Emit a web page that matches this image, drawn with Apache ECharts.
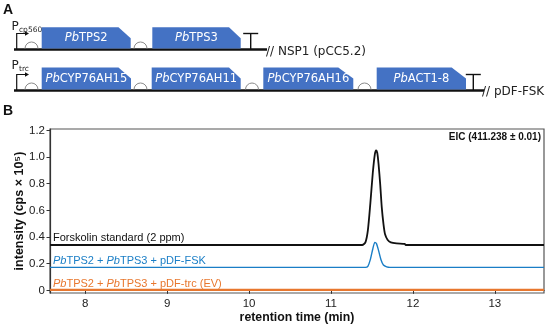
<!DOCTYPE html>
<html><head><meta charset="utf-8">
<script src="https://cdn.jsdelivr.net/npm/echarts@6/dist/echarts.min.js"></script>
<style>html,body{margin:0;padding:0;background:#fff}#c{width:550px;height:329px}</style>
</head><body><div id="c"></div>
<script>
// ---- data ----
const xTicks = [8, 9, 10, 11, 12, 13];
const yTicks = [0, 0.2, 0.4, 0.6, 0.8, 1.0, 1.2];
const stdX = [7.57, 11.38, 11.42, 11.45, 11.48, 11.51, 11.535, 11.55, 11.565, 11.58, 11.60, 11.62, 11.64, 11.66, 11.69, 11.73, 11.80, 11.90, 11.91, 13.6];
const stdY = [0.34, 0.34, 0.36, 0.45, 0.65, 0.88, 1.02, 1.05, 1.03, 0.95, 0.80, 0.62, 0.50, 0.42, 0.38, 0.36, 0.352, 0.348, 0.34, 0.34];
const fskX = [7.57, 11.42, 11.45, 11.48, 11.51, 11.535, 11.555, 11.58, 11.61, 11.64, 11.68, 11.72, 13.6];
const fskY = [0.172, 0.172, 0.18, 0.23, 0.31, 0.36, 0.35, 0.30, 0.23, 0.19, 0.176, 0.172, 0.172];
const evX = [7.57, 13.6];
const evY = [0.004, 0.004];
const row1Genes = ['PbTPS2', 'PbTPS3'];
const row2Genes = ['PbCYP76AH15', 'PbCYP76AH11', 'PbCYP76AH16', 'PbACT1-8'];
const seriesNames = ['Forskolin standard (2 ppm)', '{i|Pb}TPS2 + {i|Pb}TPS3 + pDF-FSK', '{i|Pb}TPS2 + {i|Pb}TPS3 + pDF-trc (EV)'];
const eicLabel = 'EIC (411.238 ± 0.01)';

const zip = (a, b) => a.map((v, i) => [v, b[i]]);
const BLUE = '#4472C4', BLK = '#111', RBS = '#8a8a8a';
const FA = 'DejaVu Sans';
const FB = 'Liberation Sans, Arial, sans-serif';

// ---- construct diagram (panel A) ----
const g = [];
function geneLabel(name) { return '{i|' + name.slice(0, 2) + '}' + name.slice(2); }
function gene(name, x0, x1, xc, top, base) {
  g.push({ type: 'polygon', shape: { points: [[x0, top], [xc, top], [x1, top + 11], [x1, base], [x0, base]] }, style: { fill: BLUE } });
  g.push({ type: 'text', x: (x0 + x1) / 2, y: (top + base) / 2 + 0.5, style: { text: geneLabel(name), fill: '#fff', font: '11.5px ' + FA, align: 'center', verticalAlign: 'middle',
    rich: { i: { fontStyle: 'italic', fontFamily: FA, fontSize: 11.5, fill: '#fff' } } } });
}
function rbs(cx, y) {
  g.push({ type: 'arc', shape: { cx: cx, cy: y, r: 6.5, startAngle: Math.PI, endAngle: 2 * Math.PI }, style: { stroke: RBS, lineWidth: 1, fill: null } });
}
function promoter(y, sub, py) {
  g.push({ type: 'polyline', shape: { points: [[16.7, y], [16.7, y - 16], [25, y - 16]] }, style: { stroke: BLK, lineWidth: 1.2, fill: null } });
  g.push({ type: 'polygon', shape: { points: [[29, y - 16], [25, y - 18.3], [25, y - 13.7]] }, style: { fill: BLK } });
  g.push({ type: 'text', x: 11.5, y: py, style: { text: 'P', font: '12px ' + FA, fill: '#222', verticalAlign: 'middle' } });
  g.push({ type: 'text', x: 19, y: py + 3.5, style: { text: sub, font: '7.5px ' + FA, fill: '#222', verticalAlign: 'middle' } });
}
function term(x, y) {
  g.push({ type: 'polyline', shape: { points: [[x, y], [x, y - 16]] }, style: { stroke: BLK, lineWidth: 1.4 } });
  g.push({ type: 'polyline', shape: { points: [[x - 7.5, y - 16], [x + 7.5, y - 16]] }, style: { stroke: BLK, lineWidth: 1.4 } });
}
// row 1
const y1 = 49.5, y2 = 90.5;
g.push({ type: 'line', shape: { x1: 14, y1: y1, x2: 267, y2: y1 }, style: { stroke: BLK, lineWidth: 2.4 } });
promoter(y1, 'cp560', 26.5);
rbs(31.5, y1 - 1);
gene(row1Genes[0], 41.7, 130.7, 118.5, 27.3, y1 - 1);
rbs(140.5, y1 - 1);
gene(row1Genes[1], 152.3, 240.7, 229, 27.3, y1 - 1);
term(250.7, y1);
g.push({ type: 'text', x: 266, y: 52, style: { text: '// NSP1 (pCC5.2)', font: '12px ' + FA, fill: '#222', verticalAlign: 'middle' } });
// row 2
g.push({ type: 'line', shape: { x1: 14, y1: y2, x2: 484, y2: y2 }, style: { stroke: BLK, lineWidth: 2.4 } });
promoter(y2, 'trc', 65.5);
rbs(31.5, y2 - 1);
const r2 = [[41.7, 131, 118.5], [151.7, 240.7, 229], [263.3, 353.3, 338.3], [376.7, 466, 451.7]];
r2.forEach((p, i) => gene(row2Genes[i], p[0], p[1], p[2], 67.5, y2 - 1));
rbs(140.5, y2 - 1); rbs(252, y2 - 1); rbs(364.5, y2 - 1);
term(473.3, y2);
g.push({ type: 'text', x: 482, y: 92, style: { text: '// pDF-FSK', font: '12px ' + FA, fill: '#222', verticalAlign: 'middle' } });
// panel letters
g.push({ type: 'text', x: 3, y: 10.5, style: { text: 'A', font: 'bold 14px ' + FB, fill: '#111', verticalAlign: 'middle' } });
g.push({ type: 'text', x: 3, y: 111, style: { text: 'B', font: 'bold 14px ' + FB, fill: '#111', verticalAlign: 'middle' } });
// panel B annotations
const lblColors = ['#111', '#1a7ec6', '#e8772e'];
const lblY = [237.5, 260.5, 283.5];
seriesNames.forEach((t, i) => {
  g.push({ type: 'text', x: 53, y: lblY[i], z: 10, style: { text: t, fill: lblColors[i], font: '11px ' + FB, verticalAlign: 'middle',
    rich: { i: { fontStyle: 'italic', fontSize: 11, fontFamily: FB, fill: lblColors[i] } } } });
});
g.push({ type: 'text', x: 541, y: 137.5, z: 10, style: { text: eicLabel, fill: '#111', font: 'bold 10px ' + FB, align: 'right', verticalAlign: 'middle' } });

const chart = echarts.init(document.getElementById('c'), null, { renderer: 'canvas' });
chart.setOption({
  animation: false,
  grid: { left: 50, right: 6, top: 129, bottom: 36, containLabel: false, outerBoundsMode: 'none', show: true, borderColor: '#555', borderWidth: 1.2, backgroundColor: 'transparent' },
  xAxis: {
    type: 'value', min: 7.57, max: 13.6,
    name: 'retention time (min)', nameLocation: 'middle', nameGap: 19, nameMoveOverlap: false,
    nameTextStyle: { fontFamily: FB, fontWeight: 'bold', fontSize: 12.3, color: '#111' },
    axisLine: { show: true, lineStyle: { color: '#333', width: 1.2 } },
    axisTick: { show: true, length: 3.5, lineStyle: { color: '#333' }, customValues: xTicks },
    axisLabel: { customValues: xTicks, fontFamily: FB, fontSize: 11.5, color: '#222', margin: 5 },
    splitLine: { show: false }
  },
  yAxis: {
    type: 'value', min: -0.02, max: 1.21,
    name: 'intensity (cps × 10⁵)', nameLocation: 'middle', nameGap: 24, nameMoveOverlap: false,
    nameTextStyle: { fontFamily: FB, fontWeight: 'bold', fontSize: 12.5, color: '#111' },
    axisLine: { show: true, lineStyle: { color: '#333', width: 1.2 } },
    axisTick: { show: true, length: 3.5, lineStyle: { color: '#333' }, customValues: yTicks },
    axisLabel: { customValues: yTicks, fontFamily: FB, fontSize: 11.5, color: '#222', margin: 5,
      formatter: v => (Math.abs(v) < 1e-9 ? '0' : v.toFixed(1)) },
    splitLine: { show: false }
  },
  series: [
    { type: 'line', data: zip(evX, evY), showSymbol: false, lineStyle: { color: '#e8772e', width: 2.2 } },
    { type: 'line', data: zip(fskX, fskY), showSymbol: false, smooth: 0.25, lineStyle: { color: '#1a7ec6', width: 1.4 } },
    { type: 'line', data: zip(stdX, stdY), showSymbol: false, smooth: 0.25, lineStyle: { color: '#111', width: 1.8 } }
  ],
  graphic: g
});
</script></body></html>
